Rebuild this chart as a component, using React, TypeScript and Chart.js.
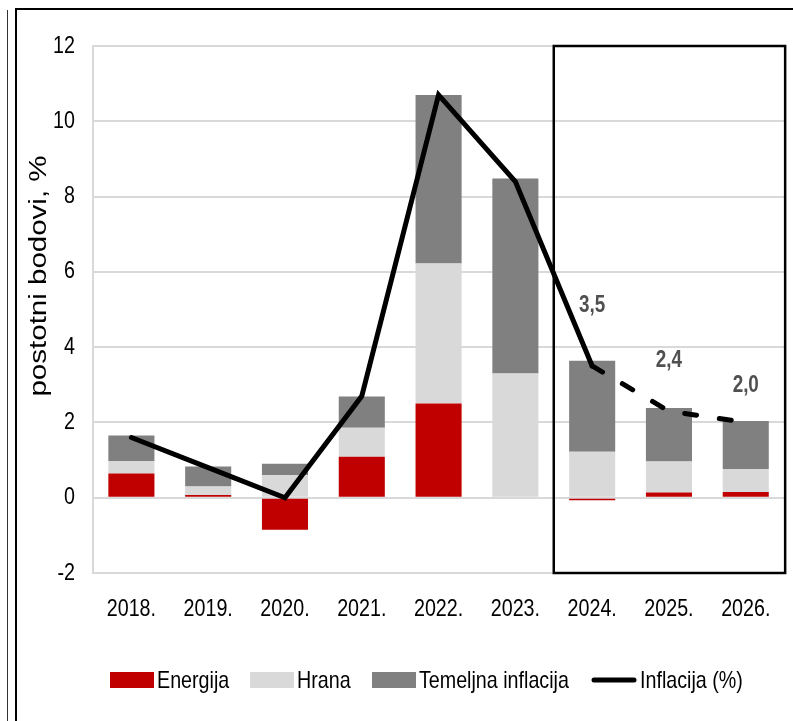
import React, { useEffect, useRef } from 'react';
import { Chart, registerables } from 'chart.js';

Chart.register(...registerables);

const categories = ['2018.', '2019.', '2020.', '2021.', '2022.', '2023.', '2024.', '2025.', '2026.'];
const energija = [0.64, 0.07, -0.85, 1.09, 2.5, 0, -0.07, 0.14, 0.15];
const hrana = [0.33, 0.23, 0.6, 0.77, 3.72, 3.3, 1.22, 0.82, 0.61];
const temeljna = [0.68, 0.53, 0.3, 0.83, 4.48, 5.18, 2.42, 1.42, 1.28];
const inflacija = [1.6, 0.8, 0.0, 2.7, 10.7, 8.4, 3.5, 2.3, 2.0];
const inflacijaLabels = ['', '', '', '', '', '', '3,5', '2,4', '2,0'];
const projectionStart = 6;
const yTicks = { min: -2, max: 12, step: 2 };
const seriesNames = ['Energija', 'Hrana', 'Temeljna inflacija', 'Inflacija (%)'];
const yTitle = 'postotni bodovi, %';

const FONT = '"Liberation Sans", Arial, sans-serif';
const SX = 0.82; // horizontal compression of the original picture
const COLORS = { energy: '#C00000', food: '#D9D9D9', core: '#808080', line: '#000000' };

const labelOffsets = [0, 0, 0, 0, 0, 0, 60, 50, 37];

function drawText(ctx: CanvasRenderingContext2D, text: string, x: number, y: number, align: CanvasTextAlign) {
  ctx.save();
  ctx.translate(x, y);
  ctx.scale(SX, 1);
  ctx.textAlign = align;
  ctx.fillText(text, 0, 0);
  ctx.restore();
}

const overlayPlugin = {
  id: 'overlay',
  afterDatasetsDraw(chart: any) {
    const { ctx, chartArea, scales } = chart;
    const x = scales.x;
    const y = scales.y;
    const half = (x.getPixelForValue(1) - x.getPixelForValue(0)) / 2;
    ctx.save();
    // projection box
    ctx.strokeStyle = '#000';
    ctx.lineWidth = 2.5;
    const left = x.getPixelForValue(projectionStart) - half;
    ctx.strokeRect(left, chartArea.top, chartArea.right + 1 - left, chartArea.bottom - chartArea.top);

    // value labels
    ctx.fillStyle = '#505050';
    ctx.font = 'bold 23px ' + FONT;
    ctx.textBaseline = 'middle';
    inflacijaLabels.forEach((lbl, i) => {
      if (!lbl) return;
      drawText(ctx, lbl, x.getPixelForValue(i), y.getPixelForValue(inflacija[i]) - labelOffsets[i], 'center');
    });

    // tick labels
    ctx.fillStyle = '#000';
    ctx.font = '24px ' + FONT;
    ctx.textBaseline = 'middle';
    y.ticks.forEach((t: any) => {
      drawText(ctx, String(t.label), 75, y.getPixelForValue(t.value), 'right');
    });
    x.ticks.forEach((t: any, i: number) => {
      drawText(ctx, String(t.label), x.getPixelForTick(i), 609, 'center');
    });

    // y title (rotated)
    ctx.save();
    ctx.font = '29.5px ' + FONT;
    ctx.textBaseline = 'alphabetic';
    ctx.textAlign = 'center';
    ctx.translate(46, 276);
    ctx.rotate(-Math.PI / 2);
    ctx.scale(1, SX);
    ctx.fillText(yTitle, 0, 0);
    ctx.restore();

    // legend
    const ly = 680;
    const boxes = [
      { x: 110, color: COLORS.energy, tx: 157, text: seriesNames[0] },
      { x: 250, color: COLORS.food, tx: 297, text: seriesNames[1] },
      { x: 372, color: COLORS.core, tx: 419, text: seriesNames[2] },
    ];
    ctx.font = '24px ' + FONT;
    ctx.textBaseline = 'middle';
    boxes.forEach((b) => {
      ctx.fillStyle = b.color;
      ctx.fillRect(b.x, ly - 8, 44, 16);
      ctx.fillStyle = '#000';
      drawText(ctx, b.text, b.tx, ly + 1, 'left');
    });
    ctx.strokeStyle = COLORS.line;
    ctx.lineWidth = 5;
    ctx.lineCap = 'round';
    ctx.beginPath();
    ctx.moveTo(594, ly);
    ctx.lineTo(634, ly);
    ctx.stroke();
    ctx.fillStyle = '#000';
    drawText(ctx, seriesNames[3], 640, ly + 1, 'left');
    ctx.restore();
  },
};

export default function App() {
  const ref = useRef<HTMLCanvasElement | null>(null);

  useEffect(() => {
    if (!ref.current) return;
    const chart = new Chart(ref.current, {
      type: 'bar',
      data: {
        labels: categories,
        datasets: [
          {
            type: 'line',
            label: seriesNames[3],
            data: inflacija,
            stack: 'line',
            borderColor: COLORS.line,
            borderWidth: 5,
            pointRadius: 0,
            pointHoverRadius: 0,
            borderJoinStyle: 'miter',
            borderCapStyle: 'round',
            tension: 0,
            order: 0,
            segment: {
              borderDash: (c: any) => (c.p0DataIndex >= projectionStart ? [12, 23] : undefined),
            },
          } as any,
          { label: seriesNames[0], data: energija, backgroundColor: COLORS.energy, stack: 'bars', order: 1 },
          { label: seriesNames[1], data: hrana, backgroundColor: COLORS.food, stack: 'bars', order: 1 },
          { label: seriesNames[2], data: temeljna, backgroundColor: COLORS.core, stack: 'bars', order: 1 },
        ],
      },
      options: {
        responsive: false,
        animation: false,
        devicePixelRatio: 1,
        layout: { padding: { left: 0, right: 4, top: 46, bottom: 0 } },
        datasets: { bar: { categoryPercentage: 1, barPercentage: 0.6 } },
        plugins: { legend: { display: false }, tooltip: { enabled: false } },
        scales: {
          x: {
            stacked: true,
            grid: { display: false, drawTicks: false },
            border: { display: true, color: '#D9D9D9', width: 2 },
            ticks: { color: 'rgba(0,0,0,0)', font: { family: FONT, size: 20 }, padding: 22, maxRotation: 0 },
            afterFit: (s: any) => { s.height = 148; },
          },
          y: {
            stacked: true,
            min: yTicks.min,
            max: yTicks.max,
            grid: { color: '#D9D9D9', lineWidth: 2, drawTicks: false },
            border: { display: true, color: '#D9D9D9', width: 2 },
            ticks: { stepSize: yTicks.step, color: 'rgba(0,0,0,0)', font: { family: FONT, size: 20 }, padding: 18 },
            afterFit: (s: any) => { s.width = 93; },
          },
        },
      },
      plugins: [overlayPlugin],
    });
    return () => chart.destroy();
  }, []);

  return (
    <div style={{ position: 'absolute', left: 0, top: 0, width: 793, height: 721, background: '#fff', overflow: 'hidden' }}>
      <div style={{ position: 'absolute', left: 7, top: 10, width: 1, height: 711, background: '#333' }} />
      <div style={{ position: 'absolute', left: 15, top: 9, width: 2, height: 712, background: '#000' }} />
      <div style={{ position: 'absolute', left: 15, top: 8, width: 778, height: 2, background: '#000' }} />
      <canvas ref={ref} width={793} height={721} style={{ position: 'absolute', left: 0, top: 0, width: 793, height: 721 }} />
    </div>
  );
}
